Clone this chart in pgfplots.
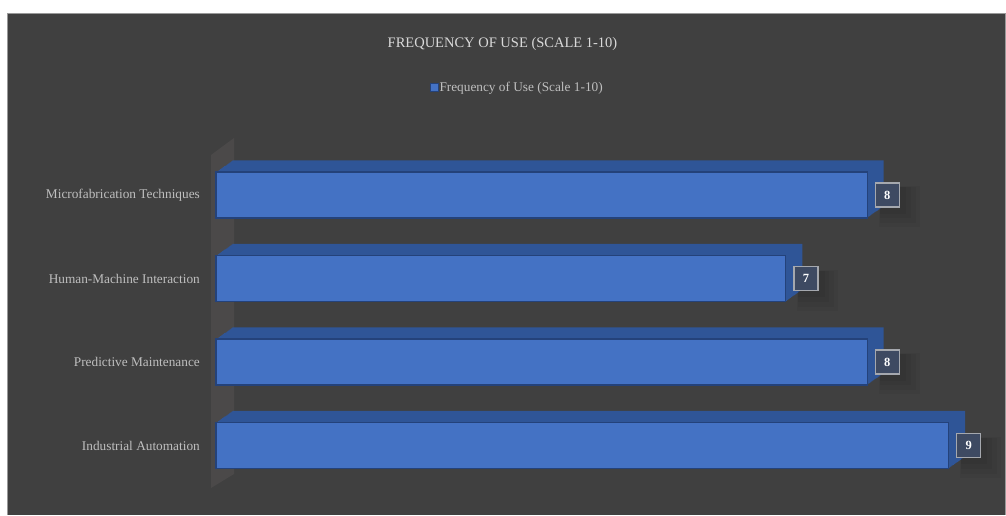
\documentclass[border=0pt]{standalone}
\usepackage{pgfplots}
\pgfplotsset{compat=1.18}
\usepackage{pgfplotstable}
\usetikzlibrary{shadows}
\usepackage{fontspec}
\setmainfont{Liberation Serif}
\definecolor{bg}{HTML}{404040}
\definecolor{frontblue}{HTML}{4472C4}
\definecolor{topblue}{HTML}{2F5597}
\definecolor{edgeblue}{HTML}{24427A}
\definecolor{wall}{HTML}{4B4949}
\definecolor{labelgray}{HTML}{BFBFBF}
\definecolor{titlegray}{HTML}{D9D9D9}
\definecolor{boxfill}{HTML}{3E4A62}
\definecolor{boxedge}{HTML}{A5A8AE}

\pgfplotstableread{
y val
0 9
1 8
2 7
3 8
}\data

\tikzset{softsh/.style={general shadow={fill=black, draw=none, opacity=#1}}}

\begin{document}
\begin{tikzpicture}
\fill[white] (0pt,0pt) rectangle (1006pt,515pt);
\fill[bg] (7pt,0pt) rectangle (1005pt,502pt);
\draw[gray!80, line width=0.8pt] (7pt,0pt) -- (7pt,502pt) -- (1005pt,502pt) -- (1005pt,0pt);
\fill[wall] (211pt,27pt) -- (211pt,360pt) -- (234pt,377pt) -- (234pt,41pt) -- cycle;
\begin{axis}[
  at={(216pt,27.75pt)}, anchor=south west,
  scale only axis, width=773.3pt, height=334pt,
  xmin=0, xmax=9.5, ymin=-0.5, ymax=3.5,
  clip=false,
  axis line style={draw=none}, tick style={draw=none},
  xtick=\empty, ytick={0,1,2,3},
  yticklabels={Industrial Automation, Predictive Maintenance, Human-Machine Interaction, Microfabrication Techniques},
  yticklabel style={font=\fontsize{13.3}{16}\selectfont, text=labelgray, inner sep=0pt, xshift=-16pt},
  every axis title shift=0pt,
  title={FREQUENCY OF USE (SCALE 1-10)},
  title style={at={(0.3705,1.327)}, anchor=center, font=\fontsize{14.5}{17}\selectfont, text=titlegray},
  legend style={at={(0.389,1.197)}, anchor=center, draw=none, fill=none, font=\fontsize{13.3}{16}\selectfont, text=labelgray, inner sep=0pt, nodes={inner sep=1pt}},
  legend image code/.code={\draw[fill=frontblue, draw=edgeblue, line width=0.6pt] (0pt,-4pt) rectangle (8pt,4pt);},
]
\addplot[xbar, bar width=46pt, bar shift=0pt, fill=frontblue, draw=edgeblue, line width=1.2pt,
  nodes near coords, nodes near coords align={horizontal},
  /pgf/number format/assume math mode=true,
  every node near coord/.append style={anchor=west, xshift=7.5pt, draw=boxedge, fill=boxfill, line width=1.2pt, minimum size=24pt, inner sep=0pt, text=white, font=\bfseries\fontsize{12.5}{12.5}\selectfont,
    general shadow={fill=black, draw=none, opacity=0.035, shadow xshift=7pt, shadow yshift=-7pt, shadow scale=1.7},
    general shadow={fill=black, draw=none, opacity=0.04, shadow xshift=7pt, shadow yshift=-7pt, shadow scale=1.5},
    general shadow={fill=black, draw=none, opacity=0.045, shadow xshift=6pt, shadow yshift=-6pt, shadow scale=1.3},
    general shadow={fill=black, draw=none, opacity=0.05, shadow xshift=5pt, shadow yshift=-5pt, shadow scale=1.1}}]
  table[x=val, y=y]{\data};
\addlegendentry{Frequency of Use (Scale 1-10)}
\pgfplotsinvokeforeach{1,...,16}{
\addplot[forget plot, xbar, bar width=46pt, bar shift=0pt, fill=topblue, draw=none, xshift=#1*1.03pt, yshift=#1*0.72pt]
  table[x=val, y=y]{\data};
}
\addplot[forget plot, xbar, bar width=46pt, bar shift=0pt, fill=frontblue, draw=edgeblue, line width=1.2pt]
  table[x=val, y=y]{\data};
\end{axis}
\end{tikzpicture}
\end{document}
